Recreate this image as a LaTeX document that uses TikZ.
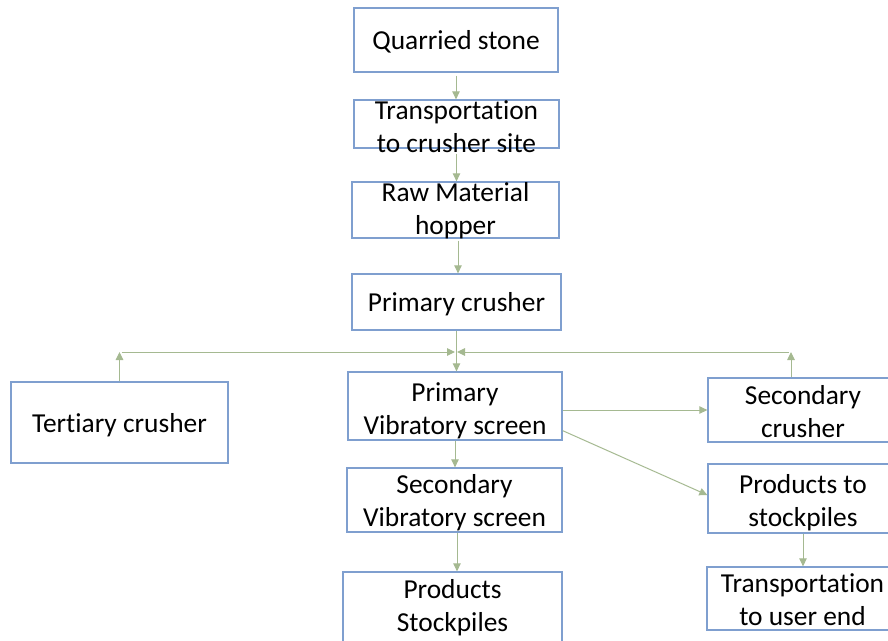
\documentclass[tikz,border=0pt]{standalone}
\usepackage{fontspec}
\setmainfont{Carlito}[Ligatures=NoCommon]
\usetikzlibrary{arrows.meta,calc}

\definecolor{boxline}{HTML}{7F9FCF}
\definecolor{flowline}{HTML}{A5B991}

\tikzset{
  box/.style={draw=boxline, line width=1.3pt, fill=white, rectangle, inner sep=0pt},
  label/.style={inner sep=0pt, align=center, text=black,
    font=\fontsize{27.4}{33.5}\selectfont},
  conn/.style={draw=flowline, line width=1pt,
    -{Triangle[length=8pt,width=7.5pt]}}
}

\begin{document}
\begin{tikzpicture}[x=1pt,y=-1pt]
\useasboundingbox (0,0) rectangle (888,640);

% process boxes (the right column runs past the page edge)
\node[box, minimum width=204pt, minimum height=64pt] (qs)   at (456,40)    {};
\node[box, minimum width=205pt, minimum height=48pt] (tcs)  at (456.5,124) {};
\node[box, minimum width=207pt, minimum height=56pt] (raw)  at (455.5,210) {};
\node[box, minimum width=209pt, minimum height=56pt] (pc)   at (456.5,302) {};
\node[box, minimum width=217pt, minimum height=81pt] (tert) at (119.5,422.5) {};
\node[box, minimum width=214pt, minimum height=68pt] (pvs)  at (455,406)   {};
\node[box, minimum width=220pt, minimum height=64pt] (sc)   at (818,410)   {};
\node[box, minimum width=220pt, minimum height=69pt] (pts)  at (818,498.5) {};
\node[box, minimum width=222pt, minimum height=63pt] (tue)  at (818,598.5) {};
\node[box, minimum width=215pt, minimum height=64pt] (svs)  at (454.5,500) {};
\node[box, minimum width=219pt, minimum height=72pt] (ps)   at (452.5,608) {};

% box texts
\node[label] (qsT)   at (456,43)    {\strut Quarried stone\strut};
\node[label] (tcsT)  at (456.5,129.5) {\strut Transportation\\to crusher site\strut};
\node[label] (rawT)  at (455.5,211.5) {\strut Raw Material\\hopper\strut};
\node[label] (pcT)   at (456.5,304.5) {\strut Primary crusher\strut};
\node[label] (tertT) at (119.5,426) {\strut Tertiary crusher\strut};
\node[label] (pvsT)  at (455,411.5) {\strut Primary\\Vibratory screen\strut};
\node[label] (scT)   at (803,414.5) {\strut Secondary\\crusher\strut};
\node[label] (ptsT)  at (803,503.5) {\strut Products to\\stockpiles\strut};
\node[label] (tueT)  at (802.5,602.5) {\strut Transportation\\to user end\strut};
\node[label] (svsT)  at (454.5,503.5) {\strut Secondary\\Vibratory screen\strut};
\node[label] (psT)   at (452.5,608.5) {\strut Products\\Stockpiles\strut};

% main vertical flow
\draw[conn] ([yshift=-3pt]qs.south) -- (qs.south |- tcs.north);
\draw[conn] ([yshift=-5pt]tcs.south) -- (tcs.south |- raw.north);
\draw[conn] ([xshift=2.5pt,yshift=-2pt]raw.south) -- ([xshift=2.5pt]raw.south |- pc.north);
\draw[conn] (pc.south) -- (pc.south |- pvs.north);

% return loops from the crushers
\coordinate (jn) at (455,352);
\coordinate (jl) at (tert.north |- jn);
\coordinate (jr) at (791,352);
\draw[conn] (tert.north) -- (jl);
\draw[conn] ([xshift=2pt]jl) -- (jn);
\draw[conn] (jr |- sc.north) -- (jr);
\draw[conn] ([xshift=-2pt]jr) -- ([xshift=2pt]jn);

% screen outputs
\draw[conn] ([yshift=-4pt]pvs.east) -- ([yshift=-4pt]pvs.east -| sc.west);
\draw[conn] ([yshift=10pt]pvs.south east) -- ([yshift=3.5pt]pts.west);
\draw[conn] (pvs.south) -- (pvs.south |- svs.north);
\draw[conn] ([xshift=2.5pt]svs.south) -- ([xshift=2.5pt]svs.south |- ps.north);
\draw[conn] ([xshift=-15pt]pts.south) -- ([xshift=-15pt]pts.south |- tue.north);
\end{tikzpicture}
\end{document}
